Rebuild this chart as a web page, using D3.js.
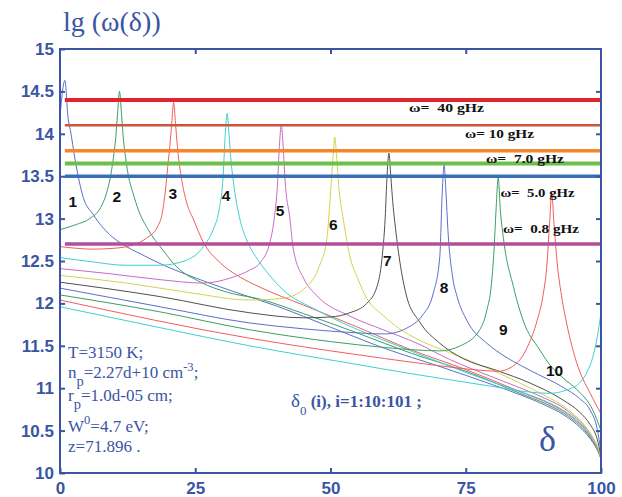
<!DOCTYPE html>
<html><head><meta charset="utf-8">
<script src="https://cdn.jsdelivr.net/npm/d3@7"></script>
<style>body{margin:0;background:#fff} svg{display:block}</style>
</head><body><svg id="chart" width="622" height="497"></svg>
<script>
// ---------------- data ----------------
const xTicks = [0, 25, 50, 75, 100];
const yTicks = [10, 10.5, 11, 11.5, 12, 12.5, 13, 13.5, 14, 14.5, 15];
const yTickLabels = ["10", "10.5", "11", "11.5", "12", "12.5", "13", "13.5", "14", "14.5", "15"];
const curveNames = ["1", "2", "3", "4", "5", "6", "7", "8", "9", "10", ""];

const curve1 = [[0,14.2],[0.9,14.63],[1.5,14.18],[1.9,14.05],[2.8,13.69],[4.3,13.25],[6.1,13.05],[9.2,12.81],[11.5,12.7],[15,12.58],[18.5,12.47],[25.9,12.28],[33,12.12],[40,11.97],[50,11.72],[60,11.47],[70,11.26],[80,11.04],[86,10.9],[90,10.79],[93,10.69],[95,10.6],[97,10.48],[98.5,10.36],[99.5,10.25],[100,10.17]];
const curve2 = [[0,12.87],[3,12.93],[5.5,13.0],[7.5,13.13],[8.5,13.28],[9.4,13.52],[10,13.78],[10.3,13.95],[10.65,14.25],[11,14.5],[11.35,14.25],[11.7,13.95],[12,13.78],[12.6,13.52],[13.5,13.3],[14.5,13.1],[16.3,12.87],[19,12.63],[21.6,12.43],[26,12.25],[31,12.13],[37,12.05],[45,11.88],[55,11.65],[65,11.41],[75,11.2],[85,10.94],[90,10.81],[93,10.71],[95,10.62],[97,10.5],[98.5,10.37],[99.5,10.25],[100,10.17]];
const curve3 = [[0,12.67],[3,12.65],[6,12.64],[10,12.65],[13.5,12.69],[16,12.77],[18,12.9],[19,13.1],[19.6,13.4],[20,13.67],[20.3,13.85],[20.65,14.12],[21,14.37],[21.35,14.12],[21.7,13.85],[22,13.67],[22.6,13.42],[23.5,13.17],[24.6,13.0],[26.5,12.72],[29.6,12.48],[33.3,12.31],[37,12.19],[45,11.98],[55,11.72],[65,11.45],[75,11.22],[85,10.96],[90,10.83],[93,10.73],[95,10.64],[97,10.52],[98.5,10.38],[99.5,10.26],[100,10.17]];
const curve4 = [[0,12.54],[6,12.49],[12,12.45],[18.5,12.45],[23.4,12.51],[26.5,12.67],[28.3,12.87],[29.4,13.1],[30.1,13.45],[30.55,13.99],[30.9,14.24],[31.25,13.99],[31.6,13.69],[32,13.46],[33.3,12.98],[34.5,12.75],[36.4,12.53],[38.5,12.35],[41.2,12.16],[47.5,11.92],[53.6,11.73],[59.7,11.57],[66,11.41],[72,11.26],[80,11.07],[86,10.94],[90,10.84],[93,10.74],[95,10.65],[97,10.53],[98.5,10.39],[99.5,10.27],[100,10.17]];
const curve5 = [[0,12.41],[9.2,12.35],[18.5,12.28],[26.4,12.24],[32,12.31],[35,12.39],[37,12.48],[38.8,12.72],[39.6,13.0],[40.2,13.4],[40.55,13.85],[40.9,14.1],[41.25,13.85],[41.6,13.45],[42.5,13.0],[43.1,12.65],[45,12.3],[47.5,12.09],[53.6,11.85],[59.7,11.69],[66,11.53],[72,11.34],[80,11.13],[86,10.98],[90,10.87],[93,10.77],[95,10.67],[97,10.55],[98.5,10.41],[99.5,10.28],[100,10.17]];
const curve6 = [[0,12.33],[12.3,12.24],[24.6,12.12],[35,12.04],[41.2,12.06],[45.6,12.2],[48,12.45],[49.3,12.75],[49.9,13.2],[50.45,13.71],[50.8,13.96],[51.15,13.71],[51.5,13.4],[52.4,12.98],[53.6,12.55],[55,12.3],[56.7,12.06],[59.7,11.86],[62.8,11.7],[66,11.58],[72,11.42],[80,11.21],[86,11.03],[90,10.9],[93,10.79],[95,10.69],[97,10.56],[98.5,10.42],[99.5,10.29],[100,10.18]];
const curve7 = [[0,12.25],[18.5,12.08],[35,11.89],[45,11.83],[50,11.84],[53.6,11.89],[56.7,12.0],[58.6,12.2],[59.5,12.52],[60.1,13.0],[60.45,13.5],[60.8,13.77],[61.15,13.5],[61.5,13.2],[61.9,12.95],[62.8,12.5],[64,12.1],[66.5,11.78],[70.2,11.53],[74.5,11.35],[80.7,11.21],[86.9,11.06],[93,10.86],[96,10.72],[98,10.57],[99.3,10.4],[100,10.2]];
const curve8 = [[0,12.18],[18.5,11.96],[35,11.77],[45,11.7],[53,11.66],[60,11.64],[64.7,11.73],[67,11.86],[69,12.12],[70.2,12.55],[70.65,13.3],[71,13.63],[71.35,13.3],[71.7,12.87],[72.6,12.3],[73.4,12.08],[75.2,11.8],[78.9,11.53],[80.7,11.44],[86.9,11.21],[93,11.01],[96,10.88],[98,10.74],[99.3,10.52],[100,10.25]];
const curve9 = [[0,12.1],[18.5,11.9],[35,11.69],[50,11.55],[60,11.48],[66,11.45],[70.2,11.44],[74,11.5],[77.6,11.69],[78.9,11.92],[79.7,12.2],[80.2,12.6],[80.6,13.1],[81,13.48],[81.4,13.1],[82,12.75],[83.8,12.2],[85.6,11.8],[88.7,11.45],[90.6,11.27],[93,11.12],[95.6,10.98],[98.5,10.74],[100,10.5]];
const curve10 = [[0,12.04],[35,11.59],[50,11.44],[60,11.35],[72,11.25],[78,11.21],[81,11.2],[84.5,11.3],[86.5,11.5],[88.2,11.8],[89.3,12.1],[90,12.45],[90.5,12.95],[90.9,13.3],[91.3,12.95],[91.9,12.48],[92.8,12.05],[93.7,11.75],[95.5,11.3],[98,10.94],[100,10.7]];
const curve11 = [[0,11.96],[18,11.72],[35,11.5],[54,11.29],[65,11.17],[72,11.1],[80,11.02],[86,10.96],[90.6,10.94],[93.7,10.98],[96,11.06],[97.5,11.2],[98.5,11.37],[99.3,11.6],[100,11.89]];
const curves = [curve1, curve2, curve3, curve4, curve5, curve6, curve7, curve8, curve9, curve10, curve11];

const levelValues = [14.4, 14.1, 13.8, 13.65, 13.5, 12.7];
const levelLabels = ["ω=  40 gHz", "ω= 10 gHz", "ω=  7.0 gHz", "", "ω=  5.0 gHz", "ω=  0.8 gHz"];

// ---------------- styles / layout ----------------
const curveColors = ["#5b6fc9","#3c9e64","#f25c5c","#3fd0d0","#c66cc6","#d3d34d","#505050","#5b6fc9","#3c9e64","#f25c5c","#3fd0d0"];
const levelColors = ["#e3222a","#c9553a","#f5862a","#6cbf4a","#3a6fb5","#b14f9b"];
const levelWidths = [4, 2.6, 3.6, 4, 3.6, 3.6];
const levelLabelPos = [[409,111.5,75],[465,138,69],[486,163,78],null,[500.5,197,74],[503,233,76]];
const curveLabelPos = [[72.7,207],[116.7,201.5],[172.7,199],[226,200.5],[280,216],[333.3,229.5],[387.3,265.5],[444,292.5],[503.3,334.5],[554.5,376]];
const AX = "#3a55a4";

const svg = d3.select("#chart");
const x = d3.scaleLinear().domain([0, 100]).range([60, 601]);
const y = d3.scaleLinear().domain([10, 15]).range([473, 49]);

// curves
const line = d3.line().x(d => x(d[0])).y(d => y(d[1])).curve(d3.curveMonotoneX);
svg.append("g").selectAll("path").data(curves).join("path")
  .attr("d", line).attr("fill", "none")
  .attr("stroke", (d, i) => curveColors[i]).attr("stroke-width", 1);

// level lines
svg.append("g").selectAll("line").data(levelValues).join("line")
  .attr("x1", x(0.9)).attr("x2", x(100))
  .attr("y1", d => y(d)).attr("y2", d => y(d))
  .attr("stroke", (d, i) => levelColors[i]).attr("stroke-width", (d, i) => levelWidths[i]);

// level labels
levelLabels.forEach((t, i) => {
  if (!t) return;
  const p = levelLabelPos[i];
  svg.append("text").attr("x", p[0]).attr("y", p[1])
    .attr("textLength", p[2]).attr("lengthAdjust", "spacingAndGlyphs")
    .style("white-space", "pre")
    .attr("font-family", "'Liberation Serif','Times New Roman',serif")
    .attr("font-weight", "bold").attr("font-size", 13.5).attr("fill", "#111").text(t);
});

// curve numbers
curveNames.forEach((t, i) => {
  if (!t) return;
  const p = curveLabelPos[i];
  svg.append("text").attr("x", p[0]).attr("y", p[1]).attr("text-anchor", "middle")
    .attr("font-family", "'Liberation Sans',Arial,sans-serif").attr("font-weight", "bold")
    .attr("font-size", 15.5).attr("fill", "#111").text(t);
});

// frame
svg.append("rect").attr("x", 60).attr("y", 49).attr("width", 541).attr("height", 424)
  .attr("fill", "none").attr("stroke", AX).attr("stroke-width", 2);

function styleAxis(g) {
  g.select(".domain").remove();
  g.selectAll(".tick line").attr("stroke", AX).attr("stroke-width", 2);
  g.selectAll("text").attr("fill", AX).attr("font-family", "'Liberation Sans',Arial,sans-serif")
    .attr("font-weight", "bold").attr("font-size", 17);
}
svg.append("g").attr("transform", "translate(0,473)")
  .call(d3.axisBottom(x).tickValues(xTicks).tickSizeInner(-5).tickSizeOuter(0).tickPadding(9))
  .call(styleAxis);
svg.append("g").attr("transform", "translate(60,0)")
  .call(d3.axisLeft(y).tickValues(yTicks).tickFormat((d, i) => yTickLabels[i]).tickSizeInner(-5).tickSizeOuter(0).tickPadding(6))
  .call(styleAxis);
svg.append("g").attr("transform", "translate(0,49)")
  .call(d3.axisTop(x).tickValues(xTicks.slice(1, -1)).tickFormat("").tickSizeInner(-5).tickSizeOuter(0))
  .call(styleAxis);
svg.append("g").attr("transform", "translate(601,0)")
  .call(d3.axisRight(y).tickValues(yTicks.slice(1, -1)).tickFormat("").tickSizeInner(-5).tickSizeOuter(0))
  .call(styleAxis);

// title
const serif = "'Liberation Serif','Times New Roman',serif";
svg.append("text").attr("x", 63).attr("y", 31).attr("font-family", serif)
  .attr("font-size", 28).attr("fill", AX).text("lg (ω(δ))");

// big delta
svg.append("text").attr("x", 539).attr("y", 451).attr("font-family", serif)
  .attr("font-size", 36).attr("fill", AX).text("δ");

// parameter block
function para(yb, parts) {
  const t = svg.append("text").attr("x", 68).attr("y", yb).attr("font-family", serif)
    .attr("font-size", 17).attr("fill", AX);
  parts.forEach(p => {
    const s = t.append("tspan").text(p[0]);
    if (p[1]) s.attr("dy", p[1]);
    if (p[2]) s.attr("font-size", p[2]);
  });
}
para(358, [["T=3150 K;"]]);
para(378, [["n"], ["p", 8, 14.5], ["=2.27d+10 cm", -8], ["-3", -7, 12.5], [";", 7]]);
para(401, [["r"], ["p", 8, 14.5], ["=1.0d-05 cm;", -8]]);
para(432, [["W"], ["0", -8, 12.5], ["=4.7 eV;", 8]]);
para(451.5, [["z=71.896 ."]]);

// delta_0 line
const d0 = svg.append("text").attr("x", 291).attr("y", 407).attr("font-family", serif)
  .attr("font-size", 17).attr("fill", AX).attr("font-weight", "bold");
d0.append("tspan").attr("font-weight", "normal").attr("font-size", 19).text("δ");
d0.append("tspan").attr("dy", 8).attr("font-size", 13).attr("font-weight", "normal").text("0");
d0.append("tspan").attr("dy", -8).text(" (i), i=1:10:101 ;");
</script></body></html>
